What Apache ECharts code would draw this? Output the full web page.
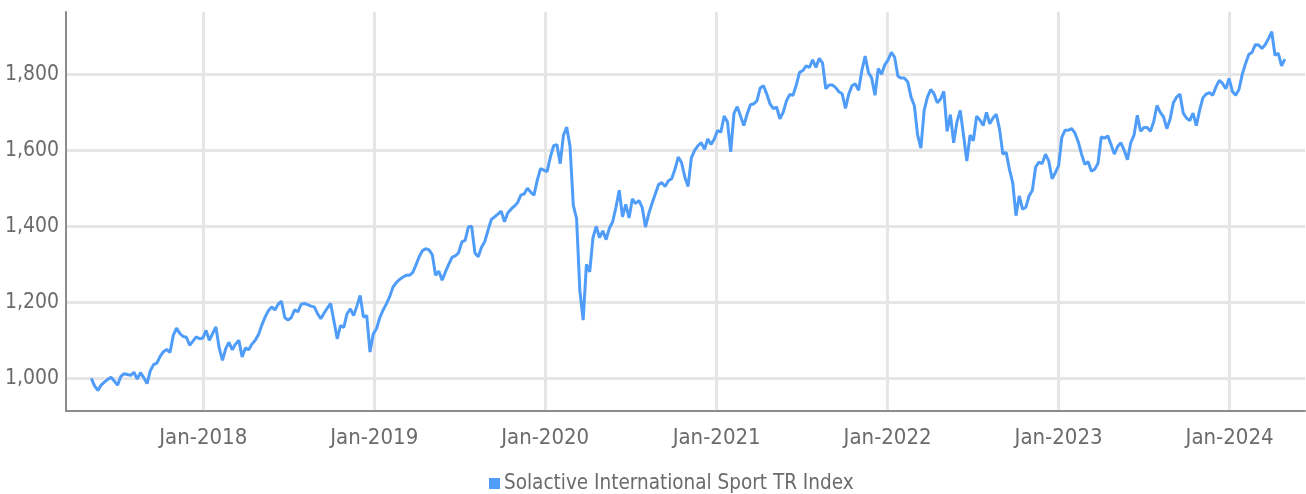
<!DOCTYPE html>
<html>
<head>
<meta charset="utf-8">
<script src="https://cdn.jsdelivr.net/npm/echarts@6/dist/echarts.min.js"></script>
<style>
  html, body { margin: 0; padding: 0; background: #ffffff; }
  #chart { width: 1306px; height: 494px; }
</style>
</head>
<body>
<div id="chart"></div>
<script>
// Solactive International Sport TR Index, weekly closes
const seriesName = 'Solactive International Sport TR Index';
const firstDate = '2017-05-07';
const stepDays = 7;
const indexValues = [
  1000, 980, 968, 982, 990, 997, 1003, 993, 982, 1005,
  1012, 1010, 1008, 1016, 998, 1015, 1002, 986, 1020, 1036,
  1040, 1058, 1070, 1076, 1068, 1113, 1132, 1118, 1110, 1108,
  1087, 1098, 1109, 1104, 1106, 1126, 1100, 1118, 1135, 1080,
  1047, 1078, 1095, 1075, 1090, 1100, 1056, 1080, 1075, 1090,
  1100, 1115, 1140, 1161, 1178, 1188, 1180, 1195, 1203, 1160,
  1153, 1160, 1180, 1175, 1195, 1197, 1194, 1190, 1188, 1170,
  1157, 1172, 1185, 1197, 1150, 1104, 1139, 1134, 1170, 1183,
  1165, 1190, 1218, 1161, 1165, 1069, 1117, 1131, 1160, 1180,
  1196, 1215, 1240, 1252, 1260, 1266, 1271, 1271, 1278, 1298,
  1320, 1336, 1341, 1338, 1325, 1271, 1282, 1258, 1280, 1300,
  1318, 1322, 1330, 1359, 1363, 1398, 1400, 1330, 1320, 1345,
  1360, 1390, 1418, 1425, 1432, 1440, 1412, 1435, 1445, 1453,
  1462, 1482, 1485, 1500, 1490, 1482, 1521, 1552, 1548, 1544,
  1582, 1612, 1615, 1565, 1640, 1661, 1610, 1455, 1420, 1230,
  1153, 1300, 1280, 1370, 1400, 1370, 1388, 1365, 1395, 1412,
  1450, 1495, 1425, 1458, 1422, 1472, 1460, 1468, 1450, 1398,
  1433, 1460, 1485, 1510, 1515, 1505, 1520, 1525, 1550, 1582,
  1568, 1530, 1505, 1580, 1600, 1612, 1620, 1603, 1630, 1615,
  1630, 1652, 1648, 1690, 1675, 1596, 1697, 1715, 1690, 1665,
  1695, 1720, 1722, 1730, 1764, 1770, 1748, 1722, 1710, 1714,
  1683, 1700, 1730, 1747, 1745, 1772, 1805, 1810, 1822, 1818,
  1838, 1818, 1842, 1830, 1762, 1772, 1772, 1765, 1754, 1749,
  1710, 1748, 1770, 1775, 1758, 1810, 1848, 1805, 1790, 1745,
  1815, 1800, 1825, 1838, 1858, 1845, 1795, 1790, 1790, 1780,
  1740, 1718, 1640, 1606, 1705, 1740, 1760, 1749, 1725, 1735,
  1755, 1650, 1694, 1620, 1675, 1705, 1640, 1572, 1640, 1625,
  1690, 1680, 1665, 1700, 1670, 1685, 1695, 1655, 1590, 1595,
  1550, 1515, 1428, 1480, 1445, 1450, 1480, 1495, 1556, 1569,
  1565, 1590, 1572, 1525, 1541, 1560, 1635, 1653, 1653, 1657,
  1645, 1622, 1590, 1563, 1570, 1545, 1550, 1565, 1635, 1632,
  1638, 1615, 1590, 1610, 1620, 1600, 1575, 1620, 1640, 1692,
  1650, 1660, 1660, 1650, 1675, 1718, 1700, 1688, 1657, 1682,
  1725, 1740, 1748, 1698, 1685, 1678, 1698, 1665, 1705, 1738,
  1748, 1752, 1745, 1767, 1784, 1776, 1762, 1789, 1755, 1745,
  1760, 1800, 1828, 1852, 1858, 1878, 1877, 1868, 1878, 1894,
  1912, 1850, 1855, 1822, 1840
];

// Axis ranges and tick positions
const xStart = '2017-03-14';
const xEnd = '2024-06-10';
const xTickDates = ['2018-01-01', '2019-01-01', '2020-01-01', '2021-01-01', '2022-01-01', '2023-01-01', '2024-01-01'];
const yMin = 914;
const yMax = 1964;
const yTicks = [1000, 1200, 1400, 1600, 1800];
const monthNames = ['Jan', 'Feb', 'Mar', 'Apr', 'May', 'Jun', 'Jul', 'Aug', 'Sep', 'Oct', 'Nov', 'Dec'];

function toTime(s) {
  const p = s.split('-').map(Number);
  return Date.UTC(p[0], p[1] - 1, p[2]);
}

const t0 = toTime(firstDate);
const lineData = indexValues.map((v, i) => [t0 + i * stepDays * 86400000, v]);
const xTicks = xTickDates.map(toTime);

const FONT = "'Liberation Sans Narrow', 'DejaVu Sans Condensed', Roboto, sans-serif";
const TEXT = '#6b6b6b';
const GRID = '#e6e6e6';
const AXIS = '#8c8c8c';
const LINE = '#4f9cf9';

const chart = echarts.init(document.getElementById('chart'), null, { renderer: 'canvas' });
chart.setOption({
  animation: false,
  backgroundColor: '#ffffff',
  textStyle: { fontFamily: FONT },
  grid: { left: 66, right: 1, top: 12, bottom: 83, containLabel: false },
  legend: {
    data: [seriesName],
    left: 484,
    top: 468,
    icon: 'rect',
    itemWidth: 11,
    itemHeight: 11,
    itemGap: 6,
    textStyle: { color: TEXT, fontSize: 20.5, fontFamily: FONT, padding: [0, 0, 0, -1] }
  },
  xAxis: {
    type: 'value',
    min: toTime(xStart),
    max: toTime(xEnd),
    axisLine: { show: true, lineStyle: { color: AXIS, width: 2 } },
    axisTick: { show: false, customValues: xTicks },
    splitLine: { show: true, lineStyle: { color: GRID, width: 3 } },
    axisLabel: {
      customValues: xTicks,
      color: TEXT,
      fontSize: 22,
      fontFamily: FONT,
      margin: 16,
      formatter: function (val) {
        const d = new Date(val);
        return monthNames[d.getUTCMonth()] + '-' + d.getUTCFullYear();
      }
    }
  },
  yAxis: {
    type: 'value',
    min: yMin,
    max: yMax,
    axisLine: { show: true, lineStyle: { color: AXIS, width: 2 } },
    axisTick: { show: false, customValues: yTicks },
    splitLine: { show: true, lineStyle: { color: GRID, width: 3 } },
    axisLabel: {
      customValues: yTicks,
      color: TEXT,
      fontSize: 21,
      fontFamily: FONT,
      margin: 7,
      formatter: function (v) { return v.toLocaleString('en-US'); }
    }
  },
  series: [{
    name: seriesName,
    type: 'line',
    data: lineData,
    showSymbol: false,
    symbol: 'none',
    lineStyle: { color: LINE, width: 3 },
    itemStyle: { color: LINE }
  }]
});
</script>
</body>
</html>
